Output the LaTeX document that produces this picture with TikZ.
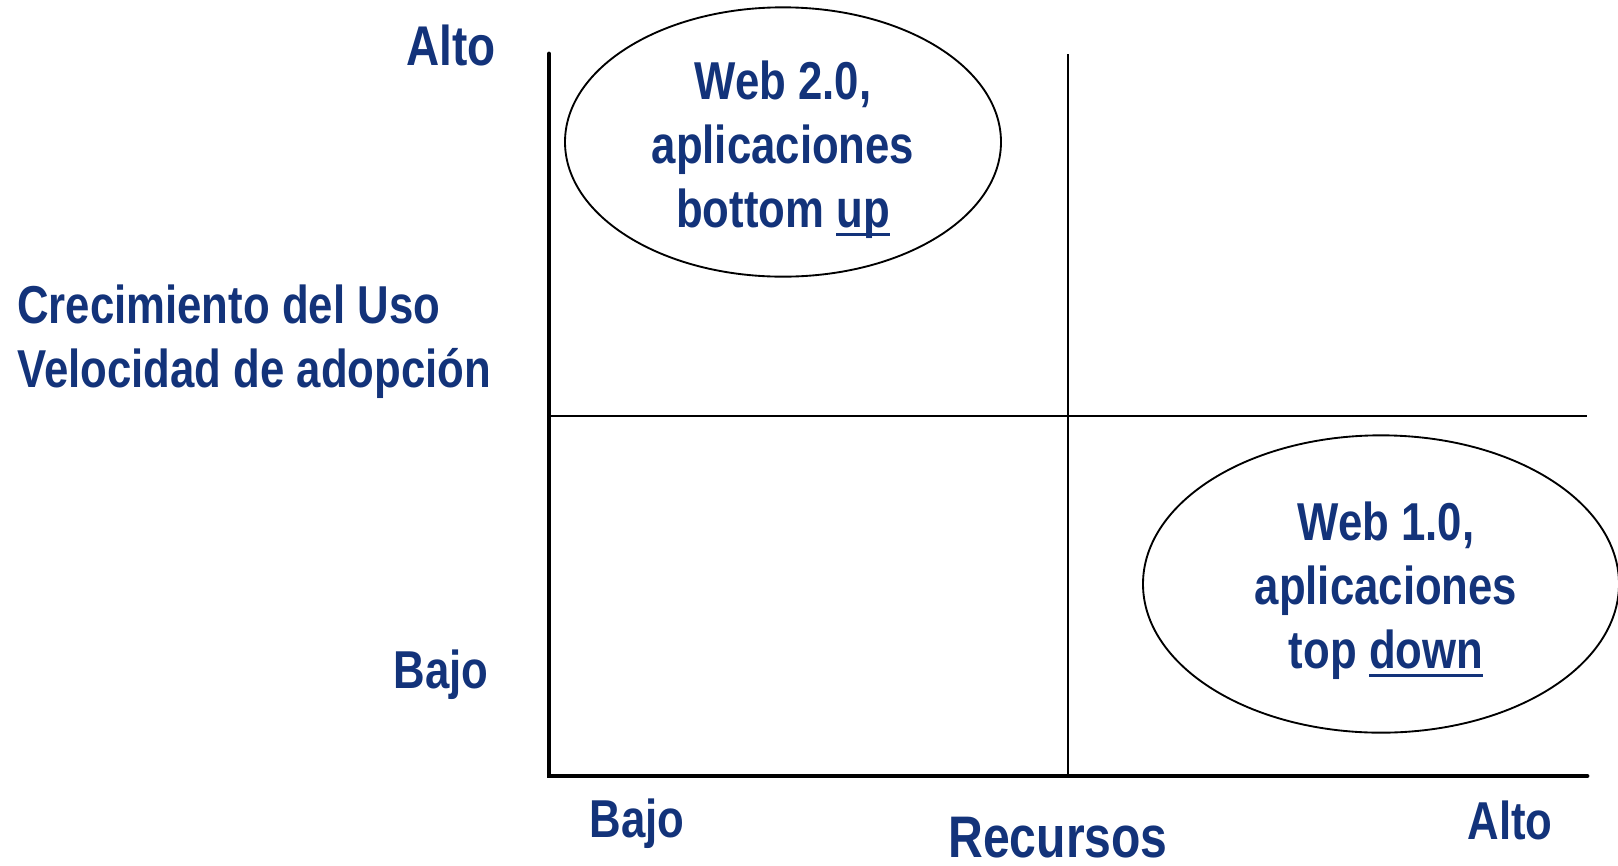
\documentclass[tikz,border=0pt]{standalone}
\usepackage{fontspec}
\setmainfont{Liberation Sans}[FakeStretch=0.82]
\usepackage{tikz}
\usetikzlibrary{shapes.geometric, positioning}
\definecolor{TextoAzul}{HTML}{13337A}
\newcommand{\subr}[1]{\setbox0\hbox{#1}\rlap{\rule[-6.5pt]{\wd0}{2.3pt}}\box0}
\tikzset{
  etiq/.style={text=TextoAzul, font=\fontsize{40}{48}\selectfont\bfseries, inner sep=0pt},
  grande/.style={etiq, font=\fontsize{44}{48}\selectfont\bfseries},
  titulo/.style={etiq, align=left},
  burbuja/.style={ellipse, draw=black, line width=1.4pt, inner sep=0pt},
  textoburbuja/.style={etiq, align=center},
  eje/.style={line width=3.6pt, black, line cap=round},
  division/.style={line width=1.4pt, black}
}
\begin{document}
\begin{tikzpicture}[x=0.75pt, y=-0.75pt]
  \useasboundingbox (0,0) rectangle (1618,865);
  % ejes y divisiones
  \coordinate (origen) at (549,776);
  \coordinate (ytop) at (549,54);
  \coordinate (xfin) at (1587,776);
  \draw[division] (1068,54) -- (1068,776);
  \draw[division] (549,416) -- (1587,416);
  \draw[eje] (ytop) -- (origen) -- (xfin);

  \node[burbuja, minimum width=327pt, minimum height=202pt] (web2) at (783,142) {};
  \node[textoburbuja] (web2txt) at (783,150) {Web 2.0,\\aplicaciones\\bottom \subr{up}};
  \node[burbuja, minimum width=357pt, minimum height=223pt] (web1) at (1381,584) {};
  \node[textoburbuja] (web1txt) at (1386,591) {Web 1.0,\\aplicaciones\\top \subr{down}};

  \node[etiq, font=\fontsize{42}{48}\selectfont\bfseries] (altoY) at (451,45) {Alto};
  \node[etiq] (bajoY) at (441,675) {Bajo};
  \node[titulo, anchor=west] (crec) at (17,342) {Crecimiento del Uso\\Velocidad de adopción};
  \node[etiq] (bajoX) at (637,824) {Bajo};
  \node[grande] (recursos) at (1058,838) {Recursos};
  \node[etiq] (altoX) at (1510,820) {Alto};
\end{tikzpicture}
\end{document}
